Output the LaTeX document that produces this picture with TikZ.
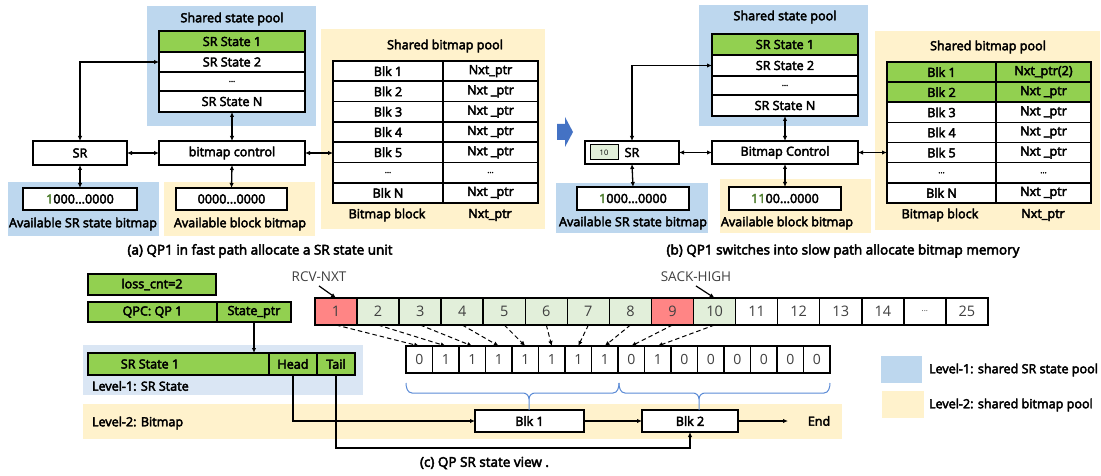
\documentclass[tikz,border=0pt]{standalone}
\usepackage{fontspec}
\setmainfont{Open Sans}[FakeBold=3.5]
\newfontfamily\seqf{Open Sans}
\usetikzlibrary{arrows.meta}
\definecolor{lblue}{HTML}{BDD7EE}
\definecolor{lbluec}{HTML}{DAE6F4}
\definecolor{lyellow}{HTML}{FFF2CC}
\definecolor{mgreen}{HTML}{92D050}
\definecolor{lgreen}{HTML}{E2EFDA}
\definecolor{lred}{HTML}{FF8585}
\definecolor{dgreen}{HTML}{548235}
\definecolor{arrowblue}{HTML}{4472C4}
\definecolor{bracec}{HTML}{5B8BD6}
\definecolor{seqgray}{HTML}{404040}
\newcommand\fs{\fontsize{12.6}{14}\selectfont}
\newcommand\cfs{\fontsize{13.5}{15}\selectfont}
\newcommand\sfs{\seqf\fontsize{14.5}{16}\selectfont}
\newcommand\bfs{\seqf\fontsize{14}{16}\selectfont}
\newcommand\dd{.{}.{}.}
\newcommand\rb[7]{\node[#6, minimum width={(#4)-(#2)}, minimum height={(#5)-(#3)}] (#1) at ({((#2)+(#4))/2},{((#3)+(#5))/2}) {#7};}
\begin{document}
\begin{tikzpicture}[x=1pt,y=-1pt,
  every node/.style={font=\fs, inner sep=0pt, outer sep=0pt},
  box/.style={draw, line width=1.6pt, fill=white},
  gbox/.style={box, fill=mgreen},
  dbox/.style={box, font=\fontsize{8}{9}\selectfont},
  sbox/.style={draw, line width=1.5pt, fill=white, font=\sfs, text=seqgray},
  bbox/.style={draw, line width=1.5pt, fill=white, font=\bfs, text=seqgray},
  arr/.style={{Latex[length=5pt,width=4.5pt]}-{Latex[length=5pt,width=4.5pt]}, line width=1.3pt},
  sarr/.style={-{Latex[length=5pt,width=4.5pt]}, line width=1.2pt},
  darr/.style={-{Latex[length=5pt,width=4.5pt]}, line width=1pt, dash pattern=on 4.5pt off 3pt},
  brc/.style={draw=bracec, line width=1pt}]
\useasboundingbox (0,0) rectangle (1101,476);
\fill[white] (0,0) rectangle (1101,476);
% ---------------- panel (a)
\fill[lblue] (147,6) rectangle (316,126);
\node (ta1) at (232,19) {Shared state pool};
\rb{as1}{159}{31}{305}{52}{gbox}{SR State 1}
\rb{as2}{159}{52}{305}{72}{box}{SR State 2}
\rb{as3}{159}{72}{305}{91}{dbox}{\dd}
\rb{as4}{159}{91}{305}{112}{box}{SR State N}
\rb{asr}{33}{141}{127}{165}{box}{SR}
\rb{actl}{159}{141}{305}{165}{box}{bitmap control}
\fill[lblue] (8,182) rectangle (159,236);
\rb{asb}{23}{188}{137}{210}{box}{\textcolor{dgreen}{1}000\dd0000}
\node (asbl) at (83,224) {Available SR state bitmap};
\fill[lyellow] (164,182) rectangle (315,236);
\rb{abb}{176}{188}{287}{210}{box}{0000\dd0000}
\node (abbl) at (240,224) {Available block bitmap};
\fill[lyellow] (321,29) rectangle (545,229);
\node (ta2) at (445,46) {Shared bitmap pool};
\foreach \i/\a/\b/\s in {1/Blk 1/Nxt\_ptr/box, 2/Blk 2/Nxt \_ptr/box, 3/Blk 3/Nxt \_ptr/box, 4/Blk 4/Nxt \_ptr/box, 5/Blk 5/Nxt \_ptr/box, 6/\dd/\dd/dbox, 7/Blk N/Nxt \_ptr/box} {
  \rb{abl\i}{333}{61+20.286*(\i-1)}{443}{61+20.286*\i}{\s}{\a}
  \rb{abr\i}{443}{61+20.286*(\i-1)}{538}{61+20.286*\i}{\s}{\b}
}
\node (abl) at (387,215) {Bitmap block};
\node (abn) at (490,215) {Nxt\_ptr};
\draw[arr] (asr.east) -- (actl.west);
\draw[arr] (as4.south) -- (actl.north);
\draw[arr] (asr.north) |- (as2.west);
\draw[arr] (asr.south) -- (asb.north);
\draw[arr] (actl.south) -- (abb.north);
\draw[arr] (actl.east) -- (actl.east -| abl5.west);
\node[font=\cfs] (capa) at (260,251) {(a) QP1 in fast path allocate a SR state unit};
% ---------------- arrow between
\fill[arrowblue] (557,124) -- (565,124) -- (565,117) -- (573,132) -- (565,147) -- (565,140) -- (557,140) -- cycle;
% ---------------- panel (b)
\fill[lblue] (699,5) rectangle (868,126);
\node (tb1) at (785,17) {Shared state pool};
\rb{bs1}{712}{34}{858}{55}{gbox}{SR State 1}
\rb{bs2}{712}{55}{858}{76}{box}{SR State 2}
\rb{bs3}{712}{76}{858}{95}{dbox}{\dd}
\rb{bs4}{712}{95}{858}{116}{box}{SR State N}
\rb{bsr}{585}{141}{679}{164}{box}{SR}
\rb{b10}{590}{145}{618}{160}{draw, line width=1pt, fill=lgreen, font=\seqf\fontsize{7.5}{8}\selectfont}{10}
\rb{bctl}{712}{141}{858}{164}{box}{Bitmap Control}
\fill[lblue] (556,183) rectangle (708,233);
\rb{bsb}{577}{187}{689}{210}{box}{\textcolor{dgreen}{1}000\dd0000}
\node (bsbl) at (633,223) {Available SR state bitmap};
\fill[lyellow] (720,179) rectangle (871,233);
\rb{bbb}{729}{187}{841}{210}{box}{\textcolor{dgreen}{11}00\dd0000}
\node (bbbl) at (787,223) {Available block bitmap};
\fill[lyellow] (875,31) rectangle (1100,230);
\node (tb2) at (988,47) {Shared bitmap pool};
\foreach \i/\a/\b/\s in {1/Blk 1/Nxt\_ptr(2)/gbox, 2/Blk 2/Nxt \_ptr/gbox, 3/Blk 3/Nxt \_ptr/box, 4/Blk 4/Nxt \_ptr/box, 5/Blk 5/Nxt \_ptr/box, 6/\dd/\dd/dbox, 7/Blk N/Nxt \_ptr/box} {
  \rb{bbl\i}{887}{62+20.14*(\i-1)}{996}{62+20.14*\i}{\s}{\a}
  \rb{bbr\i}{996}{62+20.14*(\i-1)}{1091}{62+20.14*\i}{\s}{\b}
}
\node (bbl) at (940,215) {Bitmap block};
\node (bbn) at (1043,215) {Nxt\_ptr};
\draw[arr] (bsr.east) -- (bctl.west);
\draw[arr] (bs4.south) -- (bctl.north);
\draw[arr] (bsr.north) |- (bs2.west);
\draw[arr] (bsr.south) -- (bsb.north);
\draw[arr] (bctl.south) -- (bbb.north);
\draw[arr] (bctl.east) -- (bctl.east -| bbl5.west);
\node[font=\cfs] (capb) at (843,251) {(b) QP1 switches into slow path allocate bitmap memory};
% ---------------- panel (c)
\fill[lbluec] (83,345) rectangle (363,395);
\fill[lyellow] (83,404) rectangle (842,439);
\rb{loss}{88}{274}{216}{295}{gbox}{loss\_cnt=2}
\rb{qpc}{88}{302}{217}{322}{gbox}{QPC: QP 1}
\rb{sptr}{217}{302}{291}{322}{gbox}{State\_ptr}
\rb{srs}{88}{353}{269}{375}{gbox}{}
\node (srst) at (150,364) {SR State 1};
\rb{head}{269}{353}{317}{375}{gbox}{Head}
\rb{tail}{317}{353}{355}{375}{gbox}{Tail}
\node[anchor=west] (lv1) at (92,386) {Level-1: SR State};
\node[anchor=west] (lv2) at (92,423) {Level-2: Bitmap};
\draw[sarr] (sptr.south) -- (sptr.south |- srs.north);
\foreach \i/\t/\c in {1/1/lred,2/2/lgreen,3/3/lgreen,4/4/lgreen,5/5/lgreen,6/6/lgreen,7/7/lgreen,8/8/lgreen,9/9/lred,10/10/lgreen,11/11/white,12/12/white,13/13/white,14/14/white,15/{\fontsize{8}{9}\selectfont\dd}/white,16/25/white} {
  \rb{c\i}{315+42.06*(\i-1)}{298}{315+42.06*\i}{325}{sbox,fill=\c}{\t}
}
\foreach \i/\t in {1/0,2/1,3/1,4/1,5/1,6/1,7/1,8/1,9/0,10/1,11/0,12/0,13/0,14/0,15/0,16/0} {
  \rb{b\i}{406+26.5*(\i-1)}{346}{406+26.5*\i}{373}{bbox}{\t}
}
\foreach \i in {1,2,3,4,5,6,7,8,9,10} { \draw[darr] (c\i.south) -- (b\i.north); }
\node[font=\seqf\fontsize{13.5}{15}\selectfont, text=seqgray] (rcv) at (319,277) {RCV-NXT};
\node[font=\seqf\fontsize{13.5}{15}\selectfont, text=seqgray] (sack) at (696,277) {SACK-HIGH};
\draw[sarr] ([yshift=-4pt]rcv.south) -- (c1.north);
\draw[sarr] ([yshift=-4pt]sack.south) -- (c10.north);
\rb{blk1}{475}{410}{584}{432}{box}{Blk 1}
\rb{blk2}{642}{410}{738}{432}{box}{Blk 2}
\coordinate (endp) at (788,421);
\node (endt) at (819,421) {End};
\coordinate (tc) at (336,448);
\draw[sarr] (head.south) |- (blk1.west);
\draw[sarr] (tail.south) -- (tc) -| (blk2.south);
\draw[sarr] (blk1.east) -- (blk2.west);
\draw[sarr] (blk2.east) -- (endp);
% braces
\draw[brc] (406,383) to[out=-90,in=180] (412,393) -- (523,393) to[out=0,in=90] (529,399) -- (529,410);
\draw[brc] (529,399) to[out=90,in=180] (535,393) -- (613,393) to[out=0,in=-90] (619,383);
\draw[brc] (619,383) to[out=-90,in=180] (625,393) -- (693,393) to[out=0,in=90] (699,399) -- (699,410);
\draw[brc] (699,399) to[out=90,in=180] (705,393) -- (824,393) to[out=0,in=-90] (830,383);
% legend
\fill[lblue] (881,356) rectangle (922,383);
\node[anchor=west] (lg1) at (929,370) {Level-1: shared SR state pool};
\fill[lyellow] (882,391) rectangle (924,418);
\node[anchor=west] (lg2) at (929,405) {Level-2: shared bitmap pool};
\node[anchor=west, font=\cfs] (capc) at (420,463) {(c) QP SR state view .};
\end{tikzpicture}
\end{document}
